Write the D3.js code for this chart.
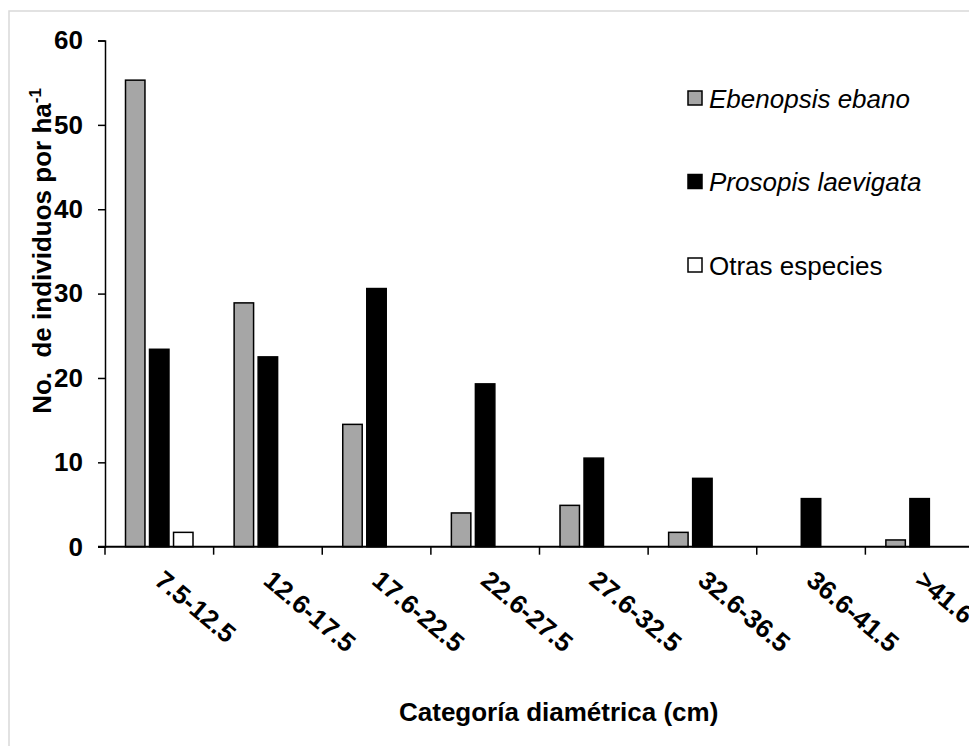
<!DOCTYPE html>
<html>
<head>
<meta charset="utf-8">
<script src="https://cdn.jsdelivr.net/npm/d3@7"></script>
<style>
  body { margin: 0; background: #fff; }
  text { font-family: "Liberation Sans", Arial, sans-serif; }
</style>
</head>
<body>
<svg id="chart" width="969" height="746"></svg>
<script>
    // categories and values
    var categories = ["7.5-12.5", "12.6-17.5", "17.6-22.5", "22.6-27.5", "27.6-32.5", "32.6-36.5", "36.6-41.5", ">41.6"];
    var seriesNames = ["Ebenopsis ebano", "Prosopis laevigata", "Otras especies"];
    var ebano     = [55.3, 28.9, 14.5, 4.0, 4.9, 1.7, 0, 0.8];
    var prosopis  = [23.4, 22.5, 30.6, 19.3, 10.5, 8.1, 5.7, 5.7];
    var otras     = [1.7, 0, 0, 0, 0, 0, 0, 0];
    var yTicks    = [0, 10, 20, 30, 40, 50, 60];

    var values = [ebano, prosopis, otras];
    var fills = ["#a6a6a6", "#000000", "#ffffff"];

    var svg = d3.select("#chart");

    // light frame round the chart area (runs off the right and bottom)
    svg.append("rect")
      .attr("x", 9).attr("y", 11)
      .attr("width", 1000).attr("height", 800)
      .attr("fill", "none")
      .attr("stroke", "#d9d9d9")
      .attr("stroke-width", 1.5);

    var xScale = d3.scaleBand().domain(categories).range([105, 974]);
    var yScale = d3.scaleLinear().domain([0, 60]).range([546.7, 40.5]);
    var inner = d3.scaleBand().domain(seriesNames).range([20.5, 88]).paddingInner(0.19);

    // bars
    var rows = [];
    seriesNames.forEach(function (s, i) {
      categories.forEach(function (c, j) {
        if (values[i][j] > 0) rows.push({series: s, cat: c, value: values[i][j], fill: fills[i]});
      });
    });

    svg.append("g").selectAll("rect")
      .data(rows)
      .enter().append("rect")
      .attr("x", d => xScale(d.cat) + inner(d.series))
      .attr("y", d => yScale(d.value))
      .attr("width", inner.bandwidth())
      .attr("height", d => yScale(0) - yScale(d.value))
      .attr("fill", d => d.fill)
      .attr("stroke", "#000")
      .attr("stroke-width", 1.5);

    // y axis
    var yAxis = svg.append("g")
      .attr("transform", "translate(105,0)")
      .call(d3.axisLeft(yScale).tickValues(yTicks).tickSize(7).tickPadding(15).tickFormat(d3.format("d")));
    yAxis.select(".domain").attr("stroke", "#000").attr("stroke-width", 1.5);
    yAxis.selectAll(".tick line").attr("stroke-width", 1.5);
    yAxis.selectAll(".tick text")
      .attr("font-size", 26)
      .attr("font-weight", "bold")
      .attr("font-family", "Liberation Sans, Arial, sans-serif")
      .attr("fill", "#000");

    // x axis: baseline, ticks at the category boundaries, slanted labels
    var xAxis = svg.append("g");
    xAxis.append("line")
      .attr("x1", 98).attr("x2", 969)
      .attr("y1", yScale(0)).attr("y2", yScale(0))
      .attr("stroke", "#000").attr("stroke-width", 2);
    xAxis.selectAll(".xtick")
      .data(categories)
      .enter().append("line")
      .attr("x1", d => xScale(d)).attr("x2", d => xScale(d))
      .attr("y1", yScale(0)).attr("y2", yScale(0) + 8)
      .attr("stroke", "#000").attr("stroke-width", 1.5);
    xAxis.selectAll(".xlabel")
      .data(categories)
      .enter().append("text")
      .attr("transform", d => "translate(" + (xScale(d) + xScale.bandwidth() / 2 - 6) + ",583) rotate(40)")
      .attr("font-size", 26)
      .attr("font-weight", "bold")
      .text(d => d);

    // axis titles
    var yTitle = svg.append("text")
      .attr("transform", "translate(51,251) rotate(-90)")
      .attr("text-anchor", "middle")
      .attr("font-size", 26)
      .attr("font-weight", "bold")
      .style("white-space", "pre");
    yTitle.append("tspan").text("No.  de individuos por ha");
    yTitle.append("tspan").attr("font-size", 17).attr("dy", -10).text("-1");

    svg.append("text")
      .attr("x", 399).attr("y", 721)
      .attr("font-size", 26)
      .attr("font-weight", "bold")
      .text("Categoría diamétrica (cm)");

    // legend
    var legend = svg.append("g").selectAll("g")
      .data(seriesNames)
      .enter().append("g")
      .attr("transform", (d, i) => "translate(688," + (98 + i * 83.5) + ")");
    legend.append("rect")
      .attr("x", 0).attr("y", -7)
      .attr("width", 14).attr("height", 14)
      .attr("fill", (d, i) => fills[i])
      .attr("stroke", "#000")
      .attr("stroke-width", 1.5);
    legend.append("text")
      .attr("x", 21).attr("y", 9.5)
      .attr("font-size", 26)
      .attr("font-style", (d, i) => i < 2 ? "italic" : "normal")
      .text(d => d);
</script>
</body>
</html>
